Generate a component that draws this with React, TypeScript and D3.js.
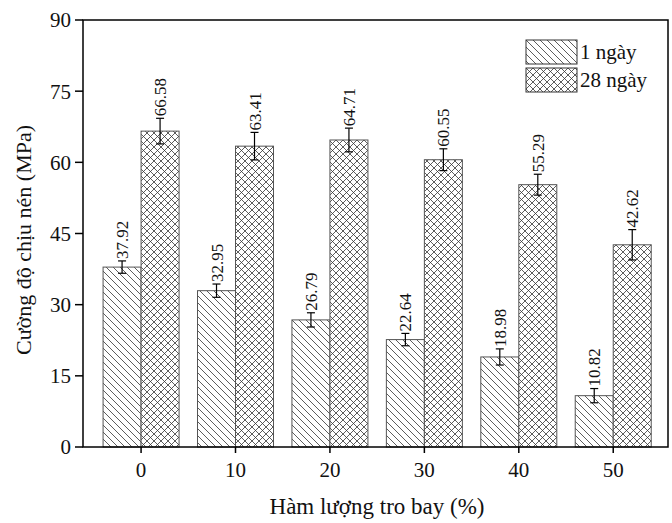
import React from 'react';
import * as d3 from 'd3';

const categories = [0, 10, 20, 30, 40, 50];
const day1 = [37.92, 32.95, 26.79, 22.64, 18.98, 10.82];
const day28 = [66.58, 63.41, 64.71, 60.55, 55.29, 42.62];
const day1Err = [1.3, 1.4, 1.5, 1.3, 1.7, 1.5];
const day28Err = [2.7, 2.9, 2.5, 2.3, 2.2, 3.2];
const yTicks = [0, 15, 30, 45, 60, 75, 90];
const seriesNames = ['1 ngày', '28 ngày'];

const W = 672;
const H = 523;
const left = 83, right = 668, top = 20, bottom = 447;
const font = '"Liberation Serif", "Times New Roman", serif';

export default function App() {
  const x = d3.scaleLinear().domain([-6.15, 55.8]).range([left, right]);
  const y = d3.scaleLinear().domain([0, 90]).range([bottom, top]);
  const bw = 38;

  const series = [
    { name: seriesNames[0], vals: day1, errs: day1Err, fill: 'url(#hatch)', off: -bw },
    { name: seriesNames[1], vals: day28, errs: day28Err, fill: 'url(#cross)', off: 0 },
  ];

  return (
    <svg width={W} height={H} style={{ position: 'absolute', left: 0, top: 0, background: '#fff' }}>
      <defs>
        <pattern id="hatch" patternUnits="userSpaceOnUse" width="7" height="7">
          <rect width="7" height="7" fill="#fff" />
          <path d="M0,0 L7,7 M-1,6 L1,8 M6,-1 L8,1" stroke="#333" strokeWidth="0.8" />
        </pattern>
        <pattern id="cross" patternUnits="userSpaceOnUse" width="7" height="7">
          <rect width="7" height="7" fill="#fff" />
          <path d="M0,0 L7,7 M-1,6 L1,8 M6,-1 L8,1 M7,0 L0,7 M-1,1 L1,-1 M6,8 L8,6" stroke="#333" strokeWidth="0.8" />
        </pattern>
      </defs>

      {series.map((s, si) => (
        <g key={s.name}>
          {categories.map((c, i) => {
            const x0 = x(c) + s.off;
            const cx = x0 + bw / 2;
            const yt = y(s.vals[i] + s.errs[i]);
            const yb = y(s.vals[i] - s.errs[i]);
            return (
              <g key={c}>
                <rect x={x0} y={y(s.vals[i])} width={bw} height={bottom - y(s.vals[i])}
                  fill={s.fill} stroke="#555" strokeWidth={1} />
                <line x1={cx} x2={cx} y1={yt} y2={yb} stroke="#000" strokeWidth={1.2} />
                <line x1={cx - 4} x2={cx + 4} y1={yt} y2={yt} stroke="#000" strokeWidth={1.2} />
                <line x1={cx - 4} x2={cx + 4} y1={yb} y2={yb} stroke="#000" strokeWidth={1.2} />
                <text transform={`translate(${cx + 6},${yt - 2}) rotate(-90)`} fontFamily={font}
                  fontSize={17} fill="#111">{s.vals[i].toFixed(2)}</text>
              </g>
            );
          })}
        </g>
      ))}

      <rect x={left} y={top} width={right - left} height={bottom - top} fill="none" stroke="#000" strokeWidth={1.5} />

      {yTicks.map(t => (
        <g key={t}>
          <line x1={left - 8} x2={left} y1={y(t)} y2={y(t)} stroke="#000" strokeWidth={1.5} />
          <text x={left - 12} y={y(t)} dy="0.35em" textAnchor="end" fontFamily={font} fontSize={21} fill="#111">{t}</text>
        </g>
      ))}
      {categories.map(c => (
        <g key={c}>
          <line x1={x(c)} x2={x(c)} y1={bottom} y2={bottom + 6} stroke="#000" strokeWidth={1.5} />
          <text x={x(c)} y={bottom + 30} textAnchor="middle" fontFamily={font} fontSize={21} fill="#111">{c}</text>
        </g>
      ))}

      <text x={377} y={514} textAnchor="middle" fontFamily={font} fontSize={23} fill="#111">Hàm lượng tro bay (%)</text>
      <text transform={`translate(31,240) rotate(-90)`} textAnchor="middle" fontFamily={font} fontSize={22} fill="#111">Cường độ chịu nén (MPa)</text>

      {series.map((s, si) => (
        <g key={'lg' + si} transform={`translate(526,${40 + si * 28})`}>
          <rect width={51} height={24} fill={s.fill} stroke="#333" strokeWidth={1} />
          <text x={54} y={19} fontFamily={font} fontSize={21} fill="#111">{s.name}</text>
        </g>
      ))}
    </svg>
  );
}
